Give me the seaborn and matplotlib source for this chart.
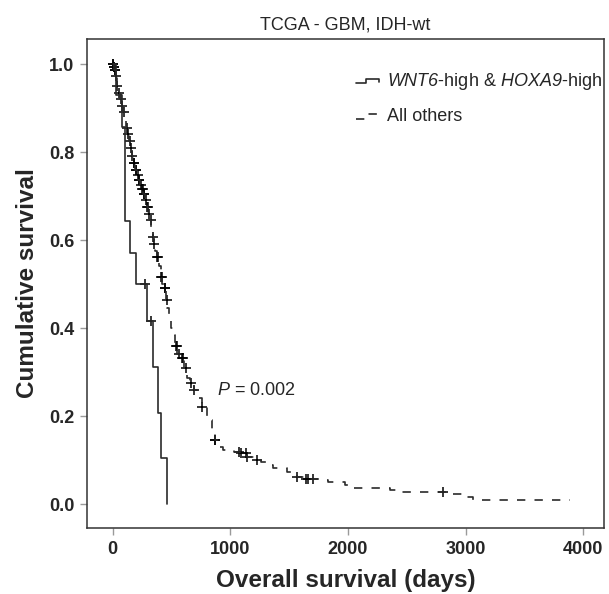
"""Kaplan-Meier style survival plot: TCGA GBM IDH-wt, WNT6/HOXA9 groups."""

import matplotlib

matplotlib.use("Agg")
import matplotlib.pyplot as plt
import numpy as np
import pandas as pd
import seaborn as sns
from matplotlib.legend_handler import HandlerLine2D
from matplotlib.lines import Line2D


# step curve of the small group (days where the curve drops, survival after the drop)
high_days = [0, 30, 76, 109, 147, 195, 294, 343, 387, 408, 459]
high_surv = [1.0, 0.929, 0.857, 0.643, 0.571, 0.5, 0.417, 0.3125, 0.208, 0.104, 0.0]
high_censored = [274, 325]

# step curve of all other patients
others_days = [0, 8, 15, 25, 34, 45, 60, 75, 90, 105,
               113, 125, 140, 150, 162, 175, 190, 205, 218, 232,
               245, 260, 274, 289, 303, 317, 330, 340, 350, 362,
               374, 390, 408, 420, 436, 453, 465, 480, 493, 510,
               530, 549, 586, 610, 629, 657, 690, 720, 756, 800,
               840, 869, 900, 940, 1030, 1082, 1138, 1223, 1260, 1310,
               1365, 1478, 1563, 1640, 1760, 1832, 1974, 2030, 2356, 2440,
               2880, 2975, 3060, 3890]
others_surv = [1.0, 0.993, 0.986, 0.972, 0.95, 0.935, 0.92, 0.905, 0.89, 0.87,
               0.855, 0.84, 0.825, 0.81, 0.79, 0.775, 0.76, 0.748, 0.736, 0.725,
               0.715, 0.705, 0.69, 0.676, 0.66, 0.645, 0.625, 0.608, 0.59, 0.575,
               0.562, 0.54, 0.517, 0.50, 0.49, 0.464, 0.445, 0.42, 0.40, 0.385,
               0.36, 0.342, 0.331, 0.31, 0.286, 0.274, 0.259, 0.24, 0.221, 0.19,
               0.165, 0.145, 0.13, 0.123, 0.119, 0.115, 0.107, 0.10, 0.096, 0.088,
               0.081, 0.073, 0.062, 0.057, 0.054, 0.051, 0.043, 0.036, 0.032, 0.028,
               0.023, 0.017, 0.010, 0.010]
others_censored = [3, 6, 10, 12, 18, 20, 28, 38, 50, 68, 82, 98, 118, 132, 145,
                   157, 168, 180, 184, 196, 200, 212, 224, 228, 238, 250, 254,
                   266, 270, 282, 296, 300, 312, 322, 344, 355, 378, 382, 412,
                   416, 442, 447, 458, 540, 545, 560, 590, 600, 625, 662, 695,
                   760, 870, 872, 1070, 1090, 1130, 1145, 1228, 1570, 1640, 1660,
                   1705, 2810]

x_ticks = [0, 1000, 2000, 3000, 4000]
y_ticks = [0.0, 0.2, 0.4, 0.6, 0.8, 1.0]
labels = [r"$WNT6$-high & $HOXA9$-high", "All others"]

LINE_COLOR = "#2a2a2a"
DASH = (0, (5, 5.5))


class StepHandler(HandlerLine2D):
    """Draw the legend key as a small step instead of a flat line."""

    def create_artists(self, legend, orig_handle, xdescent, ydescent,
                       width, height, fontsize, trans):
        xs = np.array([0.0, 0.4, 0.4, 0.9, 0.9]) * width - xdescent
        ys = np.array([0.2, 0.2, 0.55, 0.55, 0.3]) * height - ydescent
        line = Line2D(xs, ys)
        self.update_prop(line, orig_handle, legend)
        line.set_transform(trans)
        return [line]


def at_risk_level(days, surv, times):
    """Survival value of a step curve at each censoring time."""
    idx = np.searchsorted(days, times, side="right") - 1
    return np.asarray(surv)[idx]


def main() -> None:
    sns.set_style("ticks")
    plt.rcParams["font.family"] = ["Liberation Sans", "DejaVu Sans"]
    # math mode is only used for italic gene names and P, digits included
    plt.rcParams["mathtext.fontset"] = "custom"
    plt.rcParams["mathtext.rm"] = "Liberation Sans:italic"
    plt.rcParams["mathtext.it"] = "Liberation Sans:italic"
    plt.rcParams["mathtext.bf"] = "Liberation Sans:bold"
    plt.rcParams["mathtext.default"] = "it"

    fig = plt.figure(figsize=(6.09, 5.94), dpi=100)
    ax = fig.add_axes([87 / 609, 66 / 594, 517 / 609, 489 / 594])

    high = pd.DataFrame({"days": high_days, "surv": high_surv})
    others = pd.DataFrame({"days": others_days, "surv": others_surv})

    sns.lineplot(data=high, x="days", y="surv", drawstyle="steps-post",
                 estimator=None, sort=False, color=LINE_COLOR, lw=1.2,
                 legend=False, ax=ax)
    sns.lineplot(data=others, x="days", y="surv", drawstyle="steps-post",
                 estimator=None, sort=False, color=LINE_COLOR, lw=1.2,
                 ls=DASH, legend=False, ax=ax)

    cens_high = pd.DataFrame({
        "days": high_censored,
        "surv": at_risk_level(high_days, high_surv, high_censored),
    })
    cens_others = pd.DataFrame({
        "days": others_censored,
        "surv": at_risk_level(others_days, others_surv, others_censored),
    })
    for cens in (cens_high, cens_others):
        sns.scatterplot(data=cens, x="days", y="surv", marker="+", s=50,
                        color="black", linewidth=1.1, legend=False, ax=ax)

    ax.set_xlim(-218, 4175)
    ax.set_ylim(-0.0545, 1.057)
    ax.set_xticks(x_ticks)
    ax.set_yticks(y_ticks)
    ax.set_xticklabels([str(t) for t in x_ticks], fontweight="bold")
    ax.set_yticklabels([f"{t:.1f}" for t in y_ticks], fontweight="bold")
    ax.tick_params(direction="out", length=5, width=1, color="#9a9a9a",
                   labelsize=13, pad=4)

    for spine in ax.spines.values():
        spine.set_visible(True)
        spine.set_color("#333333")
        spine.set_linewidth(1.1)

    ax.set_xlabel("Overall survival (days)", fontsize=17.5, fontweight="bold",
                  labelpad=8)
    ax.set_ylabel("Cumulative survival", fontsize=17.5, fontweight="bold",
                  labelpad=7)
    ax.set_title("TCGA - GBM, IDH-wt", fontsize=13, pad=7)

    ax.text(886, 0.259, r"$P$ = 0.002", fontsize=13, ha="left", va="center")

    handles = [
        Line2D([], [], color=LINE_COLOR, lw=1.2),
        Line2D([], [], color=LINE_COLOR, lw=1.2, ls=DASH),
    ]
    ax.legend(handles, labels, loc="upper left", bbox_to_anchor=(0.52, 0.935),
              frameon=False, fontsize=13, handlelength=1.4, handletextpad=0.3,
              labelspacing=0.9, borderpad=0, borderaxespad=0,
              handler_map={Line2D: StepHandler()})

    fig.savefig("out.png", dpi=100)
    plt.close(fig)


if __name__ == "__main__":
    main()
